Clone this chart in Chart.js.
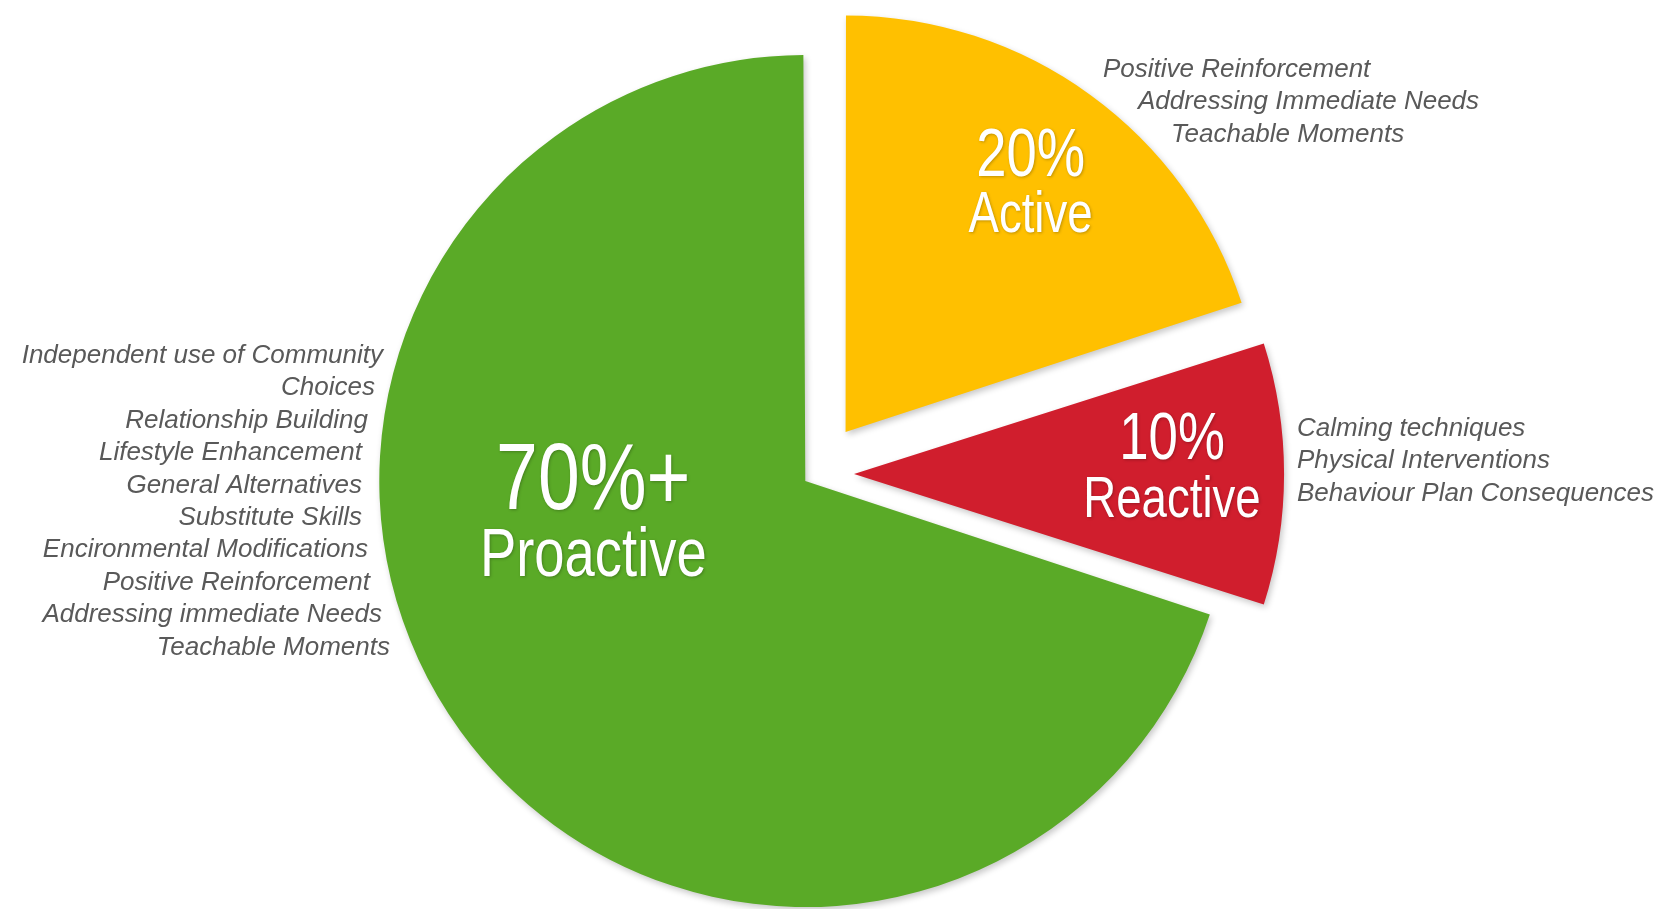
<!DOCTYPE html>
<html>
<head>
<meta charset="utf-8">
<title>Proactive / Active / Reactive</title>
<script src="https://cdn.jsdelivr.net/npm/chart.js@4/dist/chart.umd.min.js"></script>
<style>
  html, body { margin: 0; padding: 0; background: #fff; }
  canvas { display: block; }
</style>
</head>
<body>
<canvas id="pieChart" width="1673" height="909"></canvas>
<script>
// data (clockwise from 12 o'clock)
const categories  = ['Active', 'Reactive', 'Proactive'];
const shares      = [20, 10, 70];
const shareLabels = ['20%', '10%', '70%+'];

const proactiveNotes = [
  'Independent use of Community',
  'Choices',
  'Relationship Building',
  'Lifestyle Enhancement',
  'General Alternatives',
  'Substitute Skills',
  'Encironmental Modifications',
  'Positive Reinforcement',
  'Addressing immediate Needs',
  'Teachable Moments'
];
const activeNotes = [
  'Positive Reinforcement',
  'Addressing Immediate Needs',
  'Teachable Moments'
];
const reactiveNotes = [
  'Calming techniques',
  'Physical Interventions',
  'Behaviour Plan Consequences'
];

// styling / layout
const colors  = ['#ffc000', '#d01e2d', '#5aaa27'];
const explode = [208, 156, 48];

// inner labels, relative to each (shifted) slice centre
const inner = [
  { dx: 185,  big: 68, small: 57, y1: -256, y2: -200 },
  { dx: 318,  big: 66, small: 57, y1: -15,  y2: 43 },
  { dx: -212, big: 94, small: 68, y1: 28,   y2: 95 }
];

// side notes (page coords)
const leftNoteRight = [383, 375, 368, 362, 362, 362, 368, 370, 382, 390];
const leftNoteTop = 363, noteStep = 32.4;
const activeNoteX = [1103, 1138, 1171];
const activeNoteTop = 77;
const reactiveNoteX = 1297;
const reactiveNoteTop = 436;

const NOTE_FONT = 'italic 26px "Liberation Sans", Arial, sans-serif';
const NOTE_COLOR = '#595959';

const pieDecor = {
  id: 'pieDecor',
  beforeDatasetsDraw(chart) {
    const ctx = chart.ctx;
    ctx.save();
    ctx.shadowColor = 'rgba(0,0,0,0.22)';
    ctx.shadowBlur = 6;
    ctx.shadowOffsetX = 2;
    ctx.shadowOffsetY = 3;
  },
  afterDatasetsDraw(chart) {
    const ctx = chart.ctx;
    ctx.restore();

    // labels inside the slices
    const arcs = chart.getDatasetMeta(0).data;
    arcs.forEach((arc, i) => {
      const mid = (arc.startAngle + arc.endAngle) / 2;
      const shift = (arc.options.offset || 0) / 4;
      const cx = arc.x + Math.cos(mid) * shift;
      const cy = arc.y + Math.sin(mid) * shift;
      const l = inner[i];
      const drawLine = (txt, size, y) => {
        ctx.save();
        ctx.translate(cx + l.dx, cy + y);
        ctx.scale(0.8, 1);
        ctx.font = size + 'px "Liberation Sans", Arial, sans-serif';
        ctx.fillStyle = '#ffffff';
        ctx.textAlign = 'center';
        ctx.textBaseline = 'alphabetic';
        ctx.shadowColor = 'rgba(0,0,0,0.25)';
        ctx.shadowBlur = 3;
        ctx.shadowOffsetX = 1;
        ctx.shadowOffsetY = 1;
        ctx.fillText(txt, 0, 0);
        ctx.restore();
      };
      drawLine(shareLabels[i], l.big, l.y1);
      drawLine(categories[i], l.small, l.y2);
    });

    // notes beside the pie
    ctx.save();
    ctx.font = NOTE_FONT;
    ctx.fillStyle = NOTE_COLOR;
    ctx.textBaseline = 'alphabetic';
    ctx.textAlign = 'right';
    proactiveNotes.forEach((t, i) => {
      ctx.fillText(t, leftNoteRight[i], leftNoteTop + i * noteStep);
    });
    ctx.textAlign = 'left';
    activeNotes.forEach((t, i) => {
      ctx.fillText(t, activeNoteX[i], activeNoteTop + i * noteStep);
    });
    reactiveNotes.forEach((t, i) => {
      ctx.fillText(t, reactiveNoteX, reactiveNoteTop + i * noteStep);
    });
    ctx.restore();
  }
};

new Chart(document.getElementById('pieChart').getContext('2d'), {
  type: 'pie',
  data: {
    labels: categories,
    datasets: [{
      data: shares,
      backgroundColor: colors,
      borderWidth: 0,
      offset: explode,
      clip: false
    }]
  },
  options: {
    responsive: false,
    animation: false,
    radius: 414,
    rotation: 0,
    layout: { padding: { left: 0, right: 43, top: 39, bottom: 0 } },
    plugins: {
      legend: { display: false },
      tooltip: { enabled: false }
    }
  },
  plugins: [pieDecor]
});
</script>
</body>
</html>
